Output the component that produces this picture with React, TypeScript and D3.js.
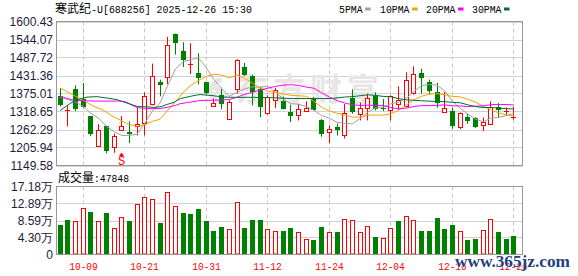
import React from "react";
import * as d3 from "d3";

const W = 578;
const H = 276;

const titleName = "寒武纪";
const titleRest = "-U[688256] 2025-12-26 15:30";
const volLabelName = "成交量";
const volLabelRest = ":47848";

const tickIdx = [3, 11, 19, 27, 35, 43, 51, 59];
const tickLabels = ["10-09", "10-21", "10-31", "11-12", "11-24", "12-04", "12-16", "12-26"];

const opens = [1366, 1321, 1388, 1358.8, 1303.3, 1211.3, 1271.9, 1207, 1261.5, 1253, 1274, 1282.3, 1343.1, 1410, 1426.6, 1560.6, 1507.2, 1464.5, 1440.4, 1410, 1336.8, 1369.2, 1293.9, 1388, 1457, 1431, 1390.2, 1314.9, 1355.7, 1351.3, 1316.8, 1308.6, 1321.2, 1356.6, 1292.9, 1254, 1268.8, 1245.9, 1360.7, 1310.5, 1329.3, 1367, 1331, 1324.3, 1343.1, 1335.6, 1377.7, 1438.2, 1410, 1380.8, 1318, 1319, 1269.7, 1300.1, 1299.2, 1277.2, 1278.2, 1333.7, 1318.5, 1301];
const highs = [1392, 1337.8, 1400.6, 1407.8, 1304.5, 1279.1, 1274, 1249, 1304.2, 1287.6, 1330.6, 1378.6, 1468.6, 1418.4, 1552, 1562.8, 1535.5, 1532.3, 1501, 1410.5, 1358.8, 1390.2, 1353.5, 1482.5, 1470.5, 1434.1, 1397.4, 1369.2, 1392, 1365, 1340, 1343.1, 1350.3, 1365, 1294.8, 1275, 1280.4, 1341.9, 1388, 1346.3, 1374.5, 1378.6, 1357.6, 1369.2, 1397.4, 1441.3, 1460.2, 1452.9, 1418.4, 1409, 1379.5, 1330.6, 1316, 1311.8, 1301, 1300.1, 1350.3, 1345, 1331.5, 1333.7];
const lows = [1334.6, 1271.9, 1320, 1330.6, 1241.5, 1210, 1188.1, 1189.4, 1261, 1219.5, 1243.7, 1243.7, 1338, 1366, 1404, 1496.9, 1458, 1436, 1403.7, 1372, 1335, 1325.2, 1291.7, 1374.5, 1430, 1337.8, 1301, 1308.6, 1329.3, 1325, 1285.4, 1290.7, 1320, 1322, 1239.6, 1219.5, 1243.7, 1234.3, 1311.8, 1290.7, 1290.7, 1322, 1320, 1290.7, 1324.3, 1332, 1371.4, 1374.5, 1372, 1330.6, 1317, 1264.7, 1263.4, 1280.4, 1266.6, 1257.2, 1276, 1300.1, 1306.4, 1293];
const closes = [1337.8, 1322, 1325.2, 1332.4, 1246.8, 1261.5, 1195.6, 1240.5, 1274, 1247.7, 1280.4, 1368.2, 1431, 1401.5, 1526, 1533.3, 1480, 1466.5, 1423.5, 1376.4, 1346.3, 1340.9, 1347.2, 1481.2, 1432, 1379.5, 1332.4, 1365.1, 1385.8, 1327.4, 1303.3, 1325.2, 1330.6, 1324.3, 1246.8, 1262.5, 1260.3, 1314.9, 1315.8, 1330.6, 1362, 1327, 1328, 1366, 1355.7, 1418.4, 1437.3, 1422.5, 1382.7, 1345, 1330.6, 1272.8, 1314.9, 1288.5, 1269.7, 1285.4, 1331.5, 1324.3, 1319, 1302.3];
const volumes = [73300, 88400, 85100, 118000, 108600, 85100, 106100, 67500, 95200, 83400, 128100, 145800, 140700, 79100, 158400, 121300, 103600, 101800, 116200, 83400, 60600, 70700, 64900, 133900, 65700, 88400, 88400, 64900, 59900, 60600, 65700, 57400, 39700, 35400, 70700, 57400, 55600, 90200, 87700, 55600, 72500, 43000, 42200, 67500, 85900, 97800, 87700, 60600, 60600, 91000, 63200, 73300, 59900, 35400, 40400, 62400, 90200, 58100, 37900, 47848];

const priceTicks = [1149.58, 1205.94, 1262.29, 1318.65, 1375.01, 1431.36, 1487.72, 1544.07, 1600.43];
const volTicks = [0, 43000, 85900, 128900, 171800];
const volTickLabels = ["0", "4.30万", "8.59万", "12.89万", "17.18万"];

// leading parts of the moving averages (before enough candles are visible)
const ma5Lead = [[0, 1364], [0.93, 1356.6], [2, 1348], [3, 1334.6]];
const ma10Lead = [[0, 1392], [1.8, 1369], [3, 1353.5], [4.4, 1334.6], [5.7, 1322], [6.6, 1306.4], [7.9, 1290.7], [8.9, 1278]];
const ma20Lead = [[0, 1366], [1.8, 1353.5], [4.4, 1351.3], [7.9, 1351.3], [8.6, 1348.1], [9.5, 1336.8], [10, 1330.6], [11.8, 1327.4], [13.1, 1328.4], [14.1, 1332.5], [15, 1337.8], [15.6, 1343], [16.9, 1348], [18.2, 1353]];
const ma30Lead = [[0, 1322.1], [0.93, 1337.8], [1.8, 1351.3], [2.7, 1358.8], [3.5, 1363.8], [4.8, 1365.1], [6.1, 1360.7], [7.4, 1355.7], [8.3, 1348.1], [9.2, 1340.9], [10, 1334.6], [10.9, 1333.7], [12.2, 1331.5], [13.1, 1333.7], [13.9, 1340.9], [14.8, 1347.2], [15.6, 1358.8], [16.9, 1366], [17.7, 1370], [18.2, 1371.6], [19.9, 1368.2], [21.2, 1363.8], [22.9, 1363], [25.1, 1363], [27.3, 1362]];

const maDefs = [
  { n: 5, lead: ma5Lead, name: "5PMA", color: "#a0a0a0" },
  { n: 10, lead: ma10Lead, name: "10PMA", color: "#f5a300" },
  { n: 20, lead: ma20Lead, name: "20PMA", color: "#ff00ff" },
  { n: 30, lead: ma30Lead, name: "30PMA", color: "#006e32" },
];
const legendX = [339, 380, 426, 472];

const signals = [{ index: 8, label: "S" }];

const RED = "#ff0000";
const GREEN = "#008000";
const AXIS_COLOR = "#1c1c3a";
const SANS = "Liberation Sans, Arial, sans-serif";
const MONO = "Liberation Mono, DejaVu Sans Mono, monospace";
const CJK = "Noto Sans CJK SC, sans-serif";

export default function App() {
  const left = 56.5, right = 522.5;
  const top = 21.5, bottom = 165.5;
  const vTop = 186.5, vBottom = 254.5;

  const x = d3.scaleLinear().domain([0, 59]).range([60.2, 513.9]);
  const y = d3.scaleLinear().domain([1149.58, 1600.43]).range([bottom, top]);
  const yv = d3.scaleLinear().domain([0, 171800]).range([vBottom, vTop]);
  const px = (i: number) => Math.floor(x(i)) + 0.5;
  const hp = (v: number) => Math.round(v) + 0.5;

  const line = d3.line<number[]>().x((d) => x(d[0])).y((d) => y(d[1]));

  const maPaths = maDefs.map((m) => {
    const pts: number[][] = m.lead.map((p) => [p[0], p[1]]);
    for (let i = m.n - 1; i < closes.length; i++) {
      const v = d3.mean(closes.slice(i - m.n + 1, i + 1)) as number;
      pts.push([i, v]);
    }
    return { ...m, d: line(pts) || "" };
  });

  const candles = closes.map((c, i) => {
    const o = opens[i];
    const up = c >= o;
    const cx = px(i);
    const yHi = y(highs[i]);
    const yLo = y(lows[i]);
    const yT = y(Math.max(o, c));
    const yB = y(Math.min(o, c));
    const color = up ? RED : GREEN;
    if (up) {
      const t = hp(yT);
      const b = hp(yB);
      if (b - t < 1.5) {
        return (
          <g key={i}>
            <line x1={cx} x2={cx} y1={yHi} y2={yLo} stroke={color} strokeWidth={1} />
            <line x1={cx - 2.5} x2={cx + 2.5} y1={t} y2={t} stroke={color} strokeWidth={1} />
          </g>
        );
      }
      return (
        <g key={i}>
          <line x1={cx} x2={cx} y1={yHi} y2={t} stroke={color} strokeWidth={1} />
          <line x1={cx} x2={cx} y1={b} y2={yLo} stroke={color} strokeWidth={1} />
          <rect x={cx - 2} y={t} width={4} height={b - t} fill="#fff" stroke={color} strokeWidth={1} />
        </g>
      );
    }
    const t = Math.round(yT);
    const b = Math.max(Math.round(yB), t + 1);
    return (
      <g key={i}>
        <line x1={cx} x2={cx} y1={yHi} y2={yLo} stroke={color} strokeWidth={1} />
        <rect x={cx - 2.5} y={t} width={5} height={b - t} fill={color} />
      </g>
    );
  });

  const volBars = volumes.map((v, i) => {
    const up = i === 0 ? closes[0] >= opens[0] : closes[i] >= closes[i - 1];
    const cx = px(i);
    if (up) {
      const t = hp(yv(v));
      return <rect key={i} x={cx - 2} y={t} width={4} height={vBottom - 0.5 - t} fill="#fff" stroke={RED} strokeWidth={1} />;
    }
    const t = Math.round(yv(v));
    return <rect key={i} x={cx - 2.5} y={t} width={5} height={vBottom - 0.5 - t} fill={GREEN} />;
  });

  return (
    <svg width={W} height={H} viewBox={`0 0 ${W} ${H}`} style={{ display: "block", position: "absolute", left: 0, top: 0, background: "#fff" }}>
      <rect x={0} y={0} width={W} height={H} fill="#fff" />
      {/* title */}
      <text x={55} y={12.5} fontFamily={CJK} fontSize={12} fill="#000">{titleName}</text>
      <text x={91} y={12.5} fontFamily={MONO} fontSize={11} fill="#000" textLength={161} lengthAdjust="spacingAndGlyphs">{titleRest}</text>
      {/* legend */}
      {maDefs.map((m, k) => (
        <g key={m.name}>
          <text x={legendX[k]} y={12.5} fontFamily={MONO} fontSize={10.5} fill="#000" textLength={m.name.length * 5.9} lengthAdjust="spacingAndGlyphs">{m.name}</text>
          <rect x={legendX[k] + m.name.length * 5.9 + 2.5} y={7.5} width={5.5} height={3} fill={m.color} />
        </g>
      ))}

      {/* main panel grid */}
      {priceTicks.map((t) => (
        <line key={t} x1={left} x2={right} y1={hp(y(t))} y2={hp(y(t))} stroke="#d2d2d2" strokeWidth={1} />
      ))}
      {tickIdx.map((ti) => (
        <g key={ti}>
          <line x1={px(ti)} x2={px(ti)} y1={top} y2={bottom} stroke="#c8c8c8" strokeWidth={1} strokeDasharray="4,3" />
          <line x1={px(ti)} x2={px(ti)} y1={vTop} y2={vBottom} stroke="#c8c8c8" strokeWidth={1} strokeDasharray="4,3" />
        </g>
      ))}
      {/* faint watermark */}
      <path d="M222,80 A11,11 0 1,0 222,102 M212,84 L226,98" fill="none" stroke="#e6e6e6" strokeWidth={5} />
      <text x={236} y={101} fontFamily={CJK} fontSize={32} fontWeight="bold" fill="#e6e6e6" letterSpacing={5}>东方财富</text>

      {candles}
      {maPaths.map((m) => (
        <path key={m.name} d={m.d} fill="none" stroke={m.color} strokeWidth={1} />
      ))}
      {signals.map((s) => (
        <g key={s.index}>
          <path d={`M${px(s.index)},152.5 L${px(s.index) - 2.5},156 L${px(s.index) + 2.5},156 Z`} fill={RED} />
          <text x={px(s.index)} y={165} textAnchor="middle" fontFamily={MONO} fontSize={12} fill={RED}>{s.label}</text>
        </g>
      ))}
      <rect x={left} y={top} width={right - left} height={bottom - top} fill="none" stroke="#999" strokeWidth={1} />

      {/* y labels */}
      {priceTicks.map((t) => (
        <text key={t} x={53} y={y(t) + 4.2} textAnchor="end" fontFamily={SANS} fontSize={12} fill={AXIS_COLOR}>{t.toFixed(2)}</text>
      ))}

      {/* volume panel */}
      <text x={58} y={181.5} fontFamily={CJK} fontSize={12} fill="#000">{volLabelName}</text>
      <text x={94} y={181.5} fontFamily={MONO} fontSize={11} fill="#000" textLength={35} lengthAdjust="spacingAndGlyphs">{volLabelRest}</text>
      {volTicks.slice(1, 4).map((t) => (
        <line key={t} x1={left} x2={right} y1={hp(yv(t))} y2={hp(yv(t))} stroke="#d2d2d2" strokeWidth={1} />
      ))}
      {volBars}
      <rect x={left} y={vTop} width={right - left} height={vBottom - vTop} fill="none" stroke="#999" strokeWidth={1} />
      {volTicks.map((t, k) => (
        <text key={t} x={53} y={yv(t) + 4.2} textAnchor="end" fontFamily={SANS} fontSize={12} fill={AXIS_COLOR}>{volTickLabels[k]}</text>
      ))}

      {/* x labels */}
      {tickIdx.map((ti, k) => (
        <text key={ti} x={px(ti)} y={270} textAnchor="middle" fontFamily={MONO} fontSize={11} fill={RED} textLength={28.5} lengthAdjust="spacingAndGlyphs">{tickLabels[k]}</text>
      ))}

      {/* site watermark */}
      <text x={455} y={267} fontFamily="Liberation Serif, serif" fontSize={17} fontWeight="bold" fill="#1f3f80" stroke="#ffffff" strokeWidth={0.6} paintOrder="stroke" textLength={115} lengthAdjust="spacingAndGlyphs">www.365jz.com</text>
    </svg>
  );
}
